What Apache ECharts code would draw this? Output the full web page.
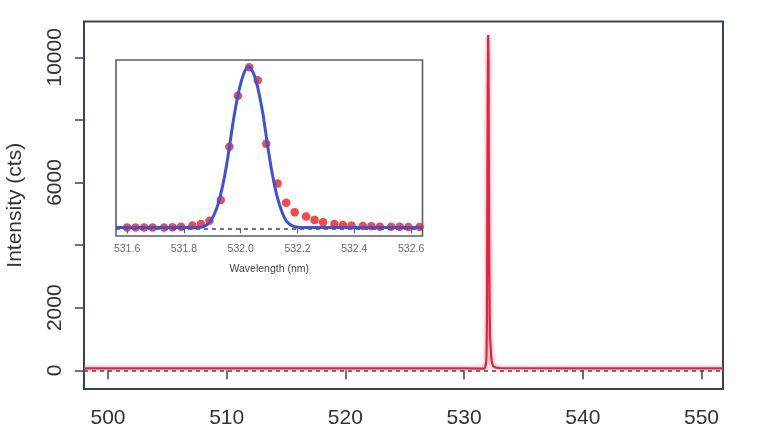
<!DOCTYPE html>
<html><head><meta charset="utf-8">
<script src="https://cdn.jsdelivr.net/npm/echarts@6/dist/echarts.min.js"></script>
<style>html,body{margin:0;padding:0;background:#fff}#c{width:768px;height:432px}</style>
</head><body><div id="c"></div>
<script>
// Measured dots (inset) — wavelength (nm) and intensity (cts)
const dotX = [531.60,531.63,531.66,531.69,531.73,531.76,531.79,531.83,531.86,531.89,531.93,531.96,531.99,532.03,532.06,532.09,532.13,532.16,532.19,532.23,532.26,532.29,532.33,532.36,532.39,532.43,532.46,532.49,532.53,532.56,532.59,532.63];
const dotY = [50,50,50,50,55,70,110,180,280,500,1880,5420,8820,10710,9850,5620,2980,1700,1060,780,560,400,290,220,180,155,130,110,110,110,90,90];
// Gaussian fit curve
const fitX = [531.561,531.80,531.85,531.869,531.892,531.916,531.939,531.957,531.974,531.992,532.010,532.027,532.044,532.060,532.077,532.094,532.110,532.127,532.145,532.162,532.186,532.21,532.30,532.64];
const fitY = [50,50,60,110,430,1350,3050,5000,7150,9000,10250,10740,10350,9350,7750,5600,3750,2200,1100,450,120,55,50,50];
// Full spectrum (main panel)
const spectrumX = [497.98,505,510,515,520,525,530,531.5,531.60,531.66,531.73,531.79,531.83,531.86,531.89,531.93,531.96,531.99,532.03,532.06,532.09,532.13,532.16,532.19,532.23,532.29,532.36,532.46,532.63,533,540,545,551.81];
const spectrumY = [60,60,60,60,60,60,60,55,50,50,55,110,180,280,500,1880,5420,8820,10710,9850,5620,2980,1700,1060,780,400,220,130,90,70,60,60,60];
// Tick values
const mainXTicks = [500,510,520,530,540,550];
const mainYTicks = [0,2000,4000,6000,8000,10000];
const mainYLabels = [0,2000,6000,10000];
const insetXTicks = [531.6,531.8,532.0,532.2,532.4,532.6];

const FONT = "'Liberation Sans', Arial, sans-serif";
const zip = (a,b) => a.map((v,i)=>[v,b[i]]);

const chart = echarts.init(document.getElementById('c'), null, {renderer:'canvas'});
chart.setOption({
  animation:false,
  backgroundColor:'#fff',
  grid:[
    {left:84, right:45, top:21.5, bottom:43, show:true, borderColor:'#3a4448', borderWidth:2, backgroundColor:'transparent', z:0, containLabel:false, outerBoundsMode:'none'},
    {left:116, right:345.5, top:60, bottom:196, show:true, borderColor:'#5a5f62', borderWidth:1.6, backgroundColor:'#fff', z:5, containLabel:false, outerBoundsMode:'none'}
  ],
  xAxis:[
    {type:'value', gridIndex:0, min:497.98, max:551.81, axisLine:{show:false}, splitLine:{show:false},
     axisTick:{show:true, length:9, lineStyle:{color:'#3a4448', width:1.5}, customValues:mainXTicks},
     axisLabel:{customValues:mainXTicks, margin:19, fontSize:21, color:'#333', fontFamily:FONT, formatter:v=>String(v)}},
    {type:'value', gridIndex:1, min:531.561, max:532.64, z:6, axisLine:{show:false}, splitLine:{show:false},
     axisTick:{show:true, length:5, lineStyle:{color:'#5a5f62', width:1.2}, customValues:insetXTicks},
     axisLabel:{customValues:insetXTicks, margin:8, fontSize:10.5, color:'#666', fontFamily:FONT, formatter:v=>v.toFixed(1)},
     name:'Wavelength (nm)', nameLocation:'middle', nameGap:28, nameTextStyle:{fontSize:10.5, color:'#444', fontFamily:FONT}}
  ],
  yAxis:[
    {type:'value', gridIndex:0, min:-597, max:11144, axisLine:{show:false}, splitLine:{show:false},
     axisTick:{show:true, length:9, lineStyle:{color:'#3a4448', width:1.5}, customValues:mainYTicks},
     axisLabel:{customValues:mainYLabels, rotate:90, margin:18, fontSize:21, color:'#333', fontFamily:FONT, formatter:v=>String(v)},
     name:'Intensity (cts)', nameLocation:'middle', nameGap:58, nameRotate:90, nameTextStyle:{fontSize:21, color:'#333', fontFamily:FONT}},
    {type:'value', gridIndex:1, min:-512, max:11192, z:6, axisLine:{show:false}, splitLine:{show:false}, axisTick:{show:false}, axisLabel:{show:false}}
  ],
  series:[
    {type:'line', xAxisIndex:0, yAxisIndex:0, data:zip(spectrumX,spectrumY), showSymbol:false, z:2,
     lineStyle:{color:'#e8203a', width:2.2, shadowColor:'rgba(255,110,130,0.8)', shadowBlur:4},
     markLine:{silent:true, symbol:'none', label:{show:false}, z:3,
       lineStyle:{color:'#444', type:[4,4], width:1.5}, data:[{yAxis:0}]}},
    {type:'scatter', xAxisIndex:1, yAxisIndex:1, data:zip(dotX,dotY), symbolSize:8.5, z:7,
     itemStyle:{color:'#f21c1c'},
     markLine:{silent:true, symbol:'none', label:{show:false}, z:7,
       lineStyle:{color:'#444', type:[4,4], width:1.5}, data:[{yAxis:0}]}},
    {type:'line', xAxisIndex:1, yAxisIndex:1, data:zip(fitX,fitY), showSymbol:false, z:8,
     smooth:0.3, lineStyle:{color:'#3c52dc', width:3}}
  ]
});
</script></body></html>
